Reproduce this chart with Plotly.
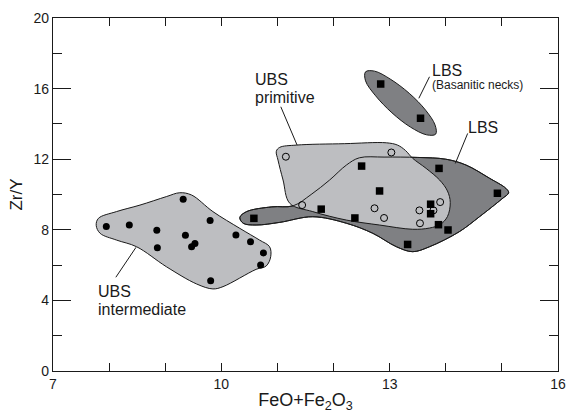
import plotly.graph_objects as go

# ---- sample data: FeO+Fe2O3 (x) vs Zr/Y (y) ----
ubs_int_x = [7.95, 8.36, 8.85, 8.86, 9.32, 9.36, 9.47, 9.53, 9.80, 9.81, 10.26, 10.52, 10.75, 10.70]
ubs_int_y = [8.18, 8.27, 7.97, 6.99, 9.73, 7.69, 7.04, 7.23, 8.52, 5.12, 7.71, 7.33, 6.69, 6.01]

ubs_prim_x = [11.15, 13.03, 11.44, 12.73, 12.90, 13.53, 13.78, 13.90, 13.54]
ubs_prim_y = [12.14, 12.38, 9.40, 9.22, 8.67, 9.10, 9.10, 9.57, 8.37]

lbs_x = [10.58, 11.78, 12.38, 12.50, 12.82, 13.88, 14.92, 13.73, 13.73, 13.87, 14.04, 13.32]
lbs_y = [8.65, 9.17, 8.67, 11.61, 10.20, 11.48, 10.07, 9.45, 8.91, 8.29, 7.99, 7.17]

necks_x = [12.84, 13.55]
necks_y = [16.26, 14.32]

# ---- field outlines (data units) ----
int_field_x = [9.02, 9.26, 9.47, 9.85, 10.33, 10.68, 10.86, 10.88, 10.80, 10.62, 10.03, 9.85,
               9.56, 9.02, 8.49, 8.13, 7.84, 7.77, 7.81, 8.13, 8.55]
int_field_y = [9.88, 10.10, 9.97, 9.03, 8.08, 7.42, 7.04, 6.48, 5.95, 5.76, 4.78, 4.65,
               4.93, 5.91, 7.04, 7.42, 7.80, 8.25, 8.65, 9.03, 9.40]

prim_field_x = [12.20, 12.94, 13.14, 13.28, 13.41, 13.65, 13.89, 14.03, 14.08, 14.03, 13.90,
                13.71, 13.41, 12.82, 12.23, 11.63, 11.22, 11.10, 11.01, 10.98, 11.04, 11.34]
prim_field_y = [12.88, 12.93, 12.80, 12.50, 12.05, 11.48, 10.82, 10.20, 9.55, 8.75, 8.30,
                8.10, 8.03, 8.27, 8.55, 9.03, 9.50, 10.82, 11.95, 12.45, 12.67, 12.80]

lbs_field_x = [12.90, 13.50, 14.00, 14.36, 14.78, 15.07, 15.12, 15.00, 14.60, 14.24, 13.71,
               13.41, 13.12, 12.70, 12.23, 11.63, 11.04, 10.62, 10.39, 10.33, 10.45, 10.90,
               11.28, 11.60, 11.93, 12.23, 12.46]
lbs_field_y = [12.12, 12.10, 12.00, 11.67, 10.92, 10.35, 10.10, 9.75, 8.74, 7.89, 7.04,
               6.76, 7.04, 7.80, 8.37, 8.74, 8.42, 8.27, 8.37, 8.70, 9.03, 9.30,
               9.36, 10.00, 10.82, 11.67, 12.08]

necks_field_x = [13.82, 13.66, 13.37, 13.04, 12.75, 12.57, 12.57, 12.73, 13.01, 13.35, 13.64, 13.81]
necks_field_y = [13.42, 13.38, 13.82, 14.63, 15.59, 16.44, 16.95, 16.99, 16.54, 15.73, 14.78, 13.93]

LIGHT = "#bdbec1"
DARK = "#7f8083"
INK = "#1a1a1a"
FONT = "Liberation Sans, Arial, sans-serif"


def closed(xs, ys):
    return xs + xs[:1], ys + ys[:1]


fig = go.Figure()


def field(xs, ys, fill, line_only=False):
    cx, cy = closed(xs, ys)
    fig.add_trace(go.Scatter(
        x=cx, y=cy, mode="lines",
        line=dict(color=INK, width=1, shape="spline", smoothing=1.0),
        fill=None if line_only else "toself",
        fillcolor=fill, hoverinfo="skip", showlegend=False))


field(int_field_x, int_field_y, LIGHT)
field(necks_field_x, necks_field_y, DARK)
field(lbs_field_x, lbs_field_y, DARK)
field(prim_field_x, prim_field_y, LIGHT)
field(lbs_field_x, lbs_field_y, None, line_only=True)

fig.add_trace(go.Scatter(x=ubs_int_x, y=ubs_int_y, mode="markers",
                         marker=dict(symbol="circle", size=7, color="black"),
                         showlegend=False))
fig.add_trace(go.Scatter(x=ubs_prim_x, y=ubs_prim_y, mode="markers",
                         marker=dict(symbol="circle-open", size=7, color="black",
                                     line=dict(width=1)),
                         showlegend=False))
fig.add_trace(go.Scatter(x=lbs_x + necks_x, y=lbs_y + necks_y, mode="markers",
                         marker=dict(symbol="square", size=7.5, color="black"),
                         showlegend=False))

# leader lines from labels to fields
leaders = [
    ([11.06, 11.35], [14.97, 12.80]),
    ([13.71, 13.52], [16.67, 15.45]),
    ([14.39, 14.17], [13.46, 11.76]),
    ([8.12, 8.48], [5.31, 7.01]),
]
for lx, ly in leaders:
    fig.add_trace(go.Scatter(x=lx, y=ly, mode="lines",
                             line=dict(color=INK, width=1),
                             hoverinfo="skip", showlegend=False))

labels = [
    (10.59, 16.54, "UBS", 16),
    (10.59, 15.47, "primitive", 16),
    (7.78, 4.49, "UBS", 16),
    (7.78, 3.46, "intermediate", 16),
    (13.74, 17.02, "LBS", 16),
    (13.74, 16.20, "(Basanitic necks)", 12),
    (14.38, 13.78, "LBS", 16),
]
for x, y, t, s in labels:
    fig.add_annotation(x=x, y=y, text=t, showarrow=False, xanchor="left",
                       yanchor="middle", font=dict(family=FONT, size=s, color=INK),
                       borderpad=0)

fig.update_xaxes(
    range=[7, 16], tickvals=[7, 10, 13, 16], ticks="inside", ticklen=8,
    tickwidth=1.2, tickcolor=INK, showline=True, linecolor=INK, linewidth=1.3,
    mirror="allticks", showgrid=False, zeroline=False, automargin=False,
    minor=dict(dtick=1, ticks="inside", ticklen=8, tickwidth=1.2, tickcolor=INK,
               showgrid=False),
    tickfont=dict(family=FONT, size=14, color=INK),
    title=dict(text="FeO+Fe<sub>2</sub>O<sub>3</sub>", standoff=2,
               font=dict(family=FONT, size=18, color=INK)),
)
fig.update_yaxes(
    range=[0, 20], tickvals=[0, 4, 8, 12, 16, 20], ticks="inside", ticklen=18,
    tickwidth=1.2, tickcolor=INK, showline=True, linecolor=INK, linewidth=1.3,
    mirror="allticks", showgrid=False, zeroline=False, automargin=False,
    minor=dict(dtick=2, ticks="inside", ticklen=9, tickwidth=1.2, tickcolor=INK,
               showgrid=False),
    tickfont=dict(family=FONT, size=14, color=INK),
    title=dict(text="Zr/Y", standoff=6, font=dict(family=FONT, size=17, color=INK)),
)

fig.update_layout(
    width=569, height=414,
    margin=dict(l=53, r=11, t=18, b=43),
    paper_bgcolor="white", plot_bgcolor="white",
    showlegend=False,
)

fig.write_html("out.html")
